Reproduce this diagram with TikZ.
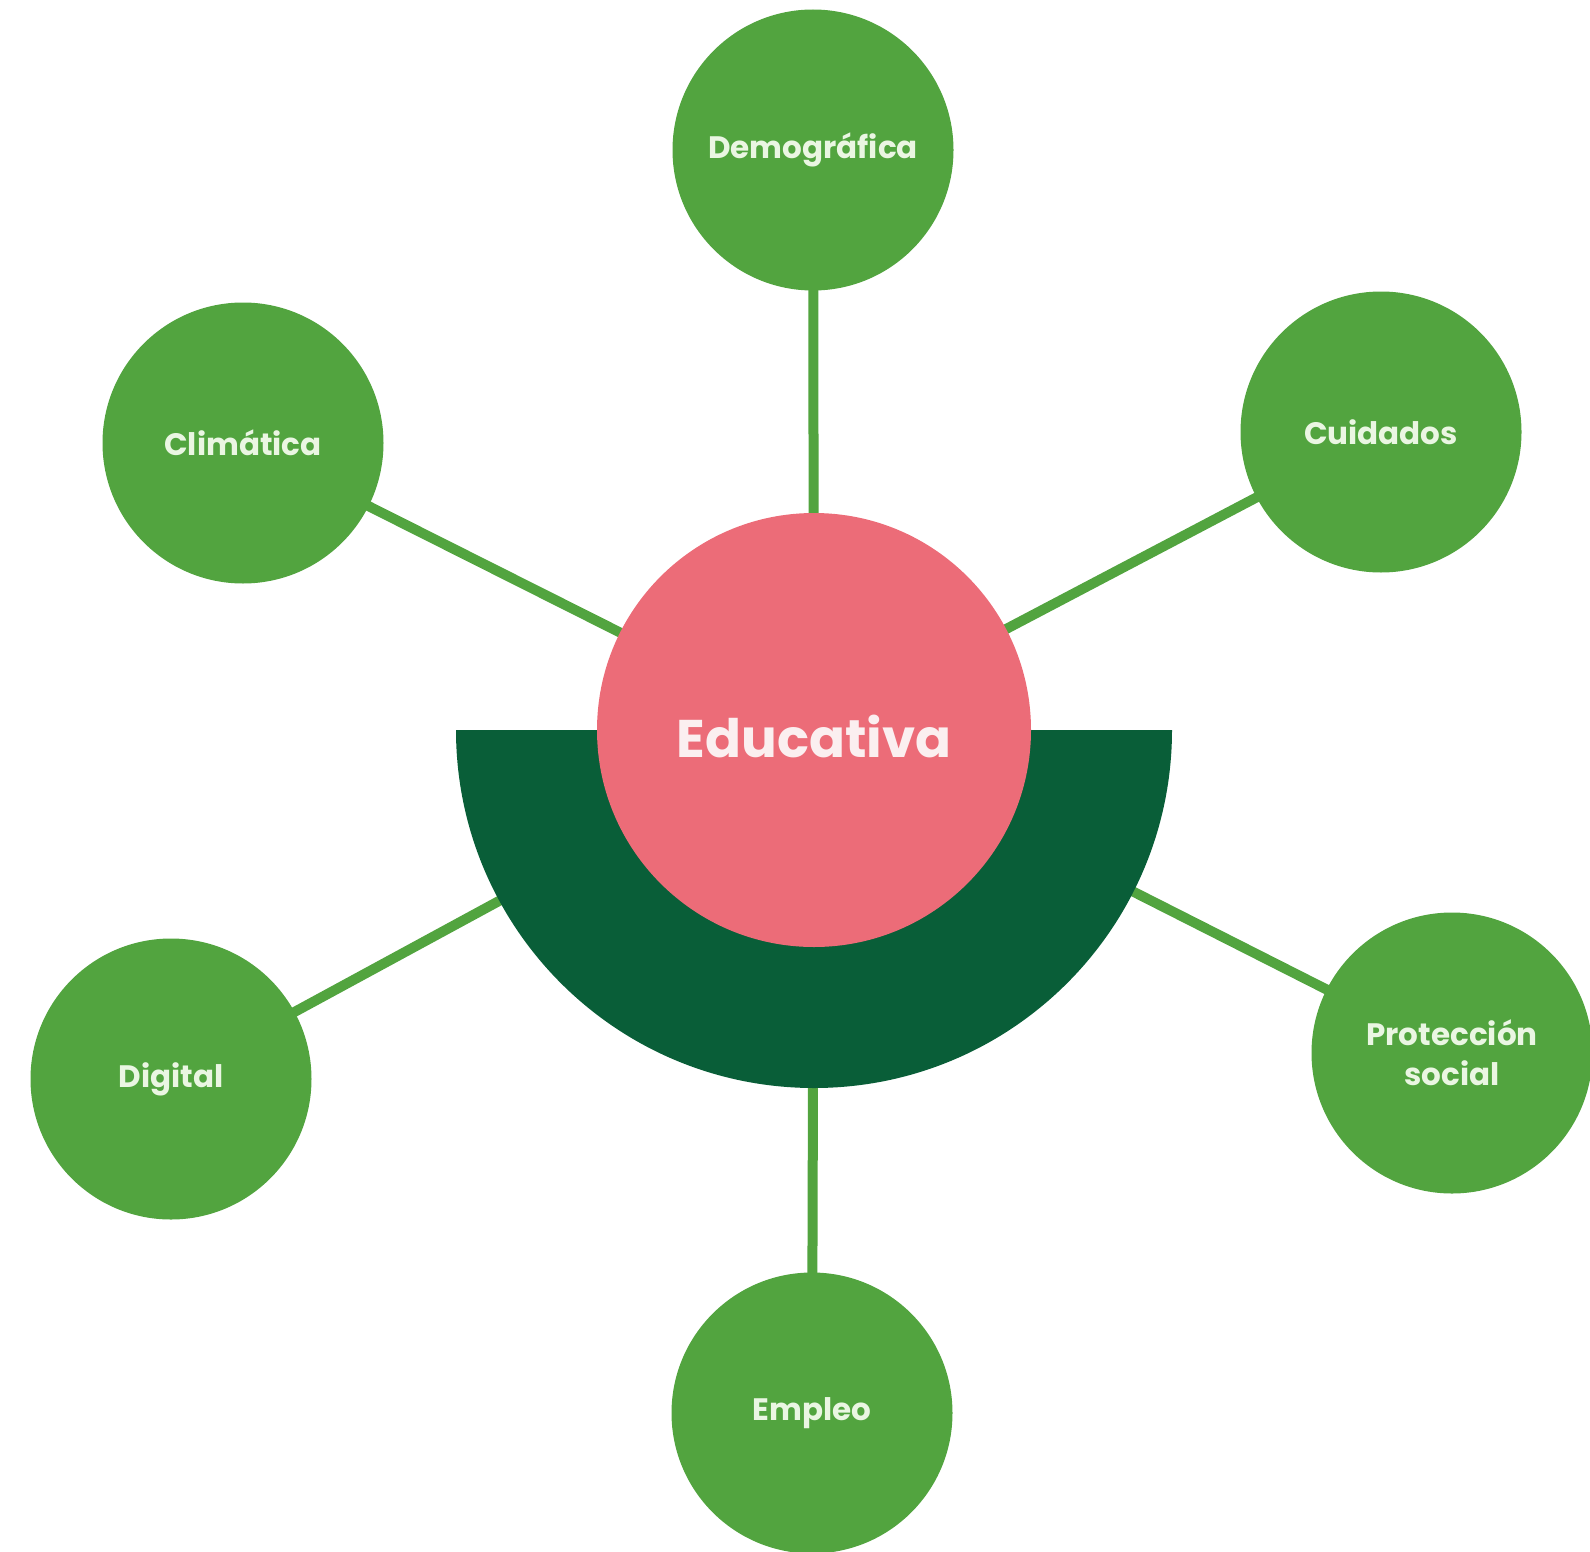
\documentclass[tikz,border=0pt]{standalone}
\usepackage{fontspec}
\setmainfont{Poppins}
\usetikzlibrary{backgrounds}
\definecolor{leaf}{HTML}{52A43F}
\definecolor{forest}{HTML}{095E38}
\definecolor{rose}{HTML}{EC6C78}
\definecolor{leaftext}{HTML}{EAF6E2}
\definecolor{rosetext}{HTML}{FBEFF0}
\tikzset{
  topic/.style={circle, fill=leaf, minimum size=281pt, inner sep=0pt, text=leaftext,
    font=\fontsize{31}{40}\selectfont\bfseries, align=center},
  hub/.style={circle, fill=rose, minimum size=434pt, inner sep=0pt},
  link/.style={draw=leaf, line width=10pt}
}
\begin{document}
\begin{tikzpicture}[x=1pt, y=-1pt]
\useasboundingbox (0,0) rectangle (1590,1552);
% dark green half disc
\fill[forest] (456,730) -- (1172,730) arc[start angle=0, end angle=180, radius=358] -- cycle;
\node[hub] (edu) at (814,730) {};
\node[text=rosetext, font=\fontsize{53}{64}\selectfont\bfseries] (edulabel) at (814,736) {Educativa};
\node[topic] (dem) at (813,150) {Demográfica};
\node[topic] (cli) at (243,443) {Climática};
\node[topic] (cui) at (1381,432) {Cuidados};
\node[topic] (dig) at (171,1079) {Digital};
\node[topic] (pro) at (1452,1053) {Protección\\social};
\node[topic] (emp) at (812,1413) {Empleo};
\begin{scope}[on background layer]
\foreach \n in {dem,cli,cui,dig,pro,emp}
  \draw[link] (\n.center) -- (edu.center);
\end{scope}
\end{tikzpicture}
\end{document}
